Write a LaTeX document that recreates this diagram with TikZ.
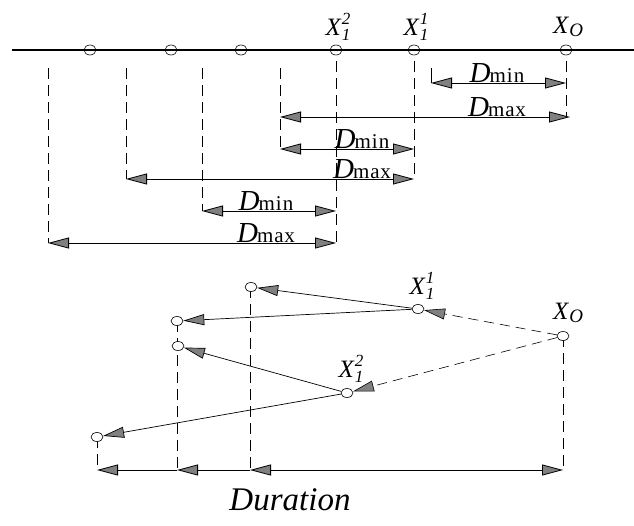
\documentclass[tikz,border=0pt]{standalone}
\usepackage{fontspec}
\setmainfont{Liberation Serif}
\usetikzlibrary{arrows.meta,shapes.geometric}
\newcommand\Dlab[1]{{\fontsize{29}{29}\selectfont\itshape D}\kern-1pt{\fontsize{21}{21}\selectfont #1}}
\newcommand\Xsub[2]{{\fontsize{25}{25}\selectfont\itshape X}\kern1pt\rlap{\raisebox{-5pt}{\fontsize{17}{17}\selectfont\itshape #1}}\raisebox{11pt}{\fontsize{17}{17}\selectfont\itshape #2}}
\newcommand\Xo{{\fontsize{25}{25}\selectfont\itshape X}\kern1pt\raisebox{-3pt}{\fontsize{19}{19}\selectfont\itshape O}}
\begin{document}
\begin{tikzpicture}[x=1pt,y=-1pt,
  tri/.tip={Triangle[length=21pt,width=11pt,fill=black!50]},
  dot/.style={draw,ellipse,minimum width=12pt,minimum height=10pt,inner sep=0,line width=0.6pt},
  bdot/.style={dot,fill=white,minimum height=9pt},
  dim/.style={tri-tri,line width=0.8pt},
  larrow/.style={-tri,line width=0.8pt},
  vdash/.style={dash pattern=on 11pt off 6pt,line width=0.7pt},
  ldash/.style={dash pattern=on 10pt off 6pt,line width=0.6pt,-tri},
  sline/.style={line width=0.7pt,-tri},
  dl/.style={anchor=south,inner sep=0.5pt},
  xl/.style={inner sep=0},
]
\useasboundingbox (0,0) rectangle (634,525);
% ---------- top part ----------
\coordinate (L0) at (12,50);
\coordinate (R0) at (634,50);
\draw[line width=1.2pt] (L0) -- (R0);
\node[dot] (t1) at (90,50) {};
\node[dot] (t2) at (171,50) {};
\node[dot] (t3) at (241,50) {};
\node[dot] (t4) at (336,50) {};
\node[dot] (t5) at (414,50) {};
\node[dot] (t6) at (566,50) {};
\node[xl] (lx12) at (338,27) {\Xsub{1}{2}};
\node[xl] (lx11) at (416,27) {\Xsub{1}{1}};
\node[xl] (lxo) at (568,27) {\Xo};
% vertical dashed lines
\coordinate (v1a) at (48,68);   \coordinate (v1b) at (48,243);
\coordinate (v2a) at (126,68);  \coordinate (v2b) at (126,179);
\coordinate (v3a) at (202,68);  \coordinate (v3b) at (202,211);
\coordinate (v4a) at (280,68);  \coordinate (v4b) at (280,149);
\coordinate (v5b) at (336,243);
\coordinate (v6b) at (414,179);
\coordinate (v7b) at (566,117);
\coordinate (v8a) at (431,68);  \coordinate (v8b) at (431,83);
\draw[vdash] (v1a) -- (v1b);
\draw[vdash] (v2a) -- (v2b);
\draw[vdash] (v3a) -- (v3b);
\draw[vdash] (v4a) -- (v4b);
\draw[vdash] (t4.south) ++(0,6) -- (v5b);
\draw[vdash] (t5.south) ++(0,6) -- (v6b);
\draw[vdash] (t6.south) ++(0,6) -- (v7b);
\draw[line width=0.7pt] (v8a) -- (v8b);
% dimension arrows
\coordinate (a1l) at (431,83);  \coordinate (a1r) at (566,83);
\coordinate (a2l) at (280,117); \coordinate (a2r) at (570,117);
\coordinate (a3l) at (280,149); \coordinate (a3r) at (414,149);
\coordinate (a4l) at (126,179); \coordinate (a4r) at (414,179);
\coordinate (a5l) at (202,211); \coordinate (a5r) at (336,211);
\coordinate (a6l) at (48,243);  \coordinate (a6r) at (336,243);
\draw[dim] (a1l) -- (a1r);
\draw[dim] (a2l) -- (a2r);
\draw[dim] (a3l) -- (a3r);
\draw[dim] (a4l) -- (a4r);
\draw[dim] (a5l) -- (a5r);
\draw[dim] (a6l) -- (a6r);
\node[dl] (d1) at (497,83)  {\Dlab{m\kern1pt i\kern1pt n}};
\node[dl] (d2) at (497,117) {\Dlab{m\kern1pt a\kern0.5pt x}};
\node[dl] (d3) at (362,149) {\Dlab{m\kern1pt i\kern1pt n}};
\node[dl] (d4) at (362,179) {\Dlab{m\kern1pt a\kern0.5pt x}};
\node[dl] (d5) at (266,211) {\Dlab{m\kern1pt i\kern1pt n}};
\node[dl] (d6) at (266,243) {\Dlab{m\kern1pt a\kern0.5pt x}};
% ---------- bottom part ----------
\coordinate (f1) at (97,470);
\coordinate (f2) at (177,470);
\coordinate (f3) at (250,470);
\coordinate (f4) at (563,470);
\draw[vdash] (97,437) -- (f1);
\draw[vdash] (177,321) -- (f2);
\draw[vdash] (250,287) -- (f3);
\draw[vdash] (563,336) -- (f4);
\node[bdot] (b1) at (251,287) {};
\node[bdot] (b2) at (177,321) {};
\node[bdot] (b3) at (178,346) {};
\node[bdot] (b4) at (97,437) {};
\node[bdot] (x11) at (418,309) {};
\node[bdot] (xo) at (563,336) {};
\node[bdot] (x12) at (347,393) {};
\node[xl] (bl11) at (422,286) {\Xsub{1}{1}};
\node[xl] (blo) at (568,313) {\Xo};
\node[xl] (bl12) at (351,369) {\Xsub{1}{2}};
\draw[ldash] (xo) -- (x11);
\draw[ldash] (xo) -- (x12);
\draw[sline] (x11) -- (b1);
\draw[sline] (x11) -- (b2);
\draw[sline] (x12) -- (b3);
\draw[sline] (x12) -- (b4);
\draw[larrow] (f2) -- (f1);
\draw[larrow] (f3) -- (f2);
\draw[dim] (f3) -- (f4);
\node[inner sep=0] (dur) at (290,500) {\fontsize{33}{33}\selectfont\itshape Duration};
\end{tikzpicture}
\end{document}
